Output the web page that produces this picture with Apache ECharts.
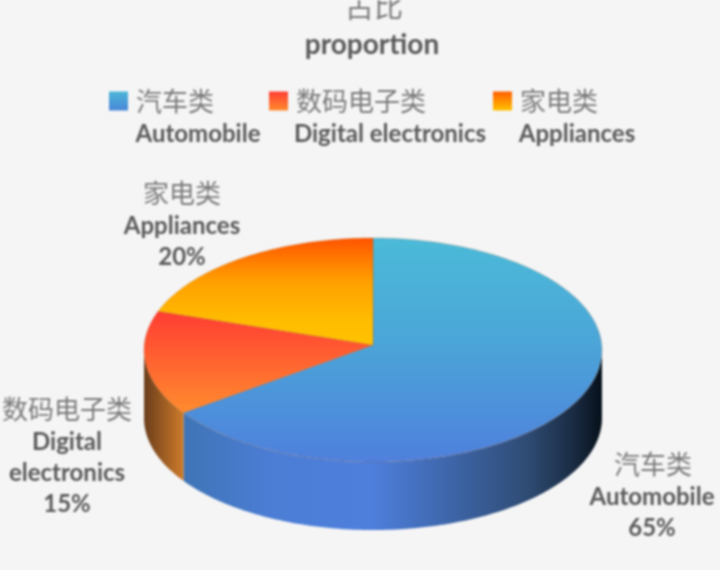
<!DOCTYPE html>
<html><head><meta charset="utf-8">
<style>html,body{margin:0;padding:0;background:#f5f5f6}#c{width:720px;height:570px;filter:blur(0.9px)}</style>
<script src="https://cdn.jsdelivr.net/npm/echarts@6/dist/echarts.min.js"></script>
</head><body><div id="c"></div>
<script>
const titleZh = '占比';
const titleEn = 'proportion';
const categoriesZh = ['汽车类', '数码电子类', '家电类'];
const categoriesEn = ['Automobile', 'Digital electronics', 'Appliances'];
const shares = [65, 15, 20];

const cjk = '"Noto Sans CJK SC"';
const lat = 'Lato, "Open Sans", sans-serif';
const cx = 373, cy = 350, apexY = 345, rx = 229, ry = 112, depth = 68;
const total = shares.reduce((a, b) => a + b, 0);

function lin(x, y, x2, y2, stops) {
  return {type: 'linear', x, y, x2, y2, global: true,
    colorStops: stops.map(s => ({offset: s[0], color: s[1]}))};
}
const topFill = [
  lin(0, 239, 0, 462, [[0, '#4bbad8'], [0.45, '#4ba6d8'], [1, '#4f80dd']]),
  lin(0, 312, 0, 413, [[0, '#ff3d33'], [1, '#ff8c2e']]),
  lin(0, 239, 0, 345, [[0, '#ff5600'], [0.4, '#ffa000'], [0.8, '#ffbe00'], [1, '#ffc200']])
];
const wallFill = [
  lin(183, 0, 602, 0, [[0, '#3f74b6'], [0.22, '#4c7ed6'], [0.45, '#4e7fdc'], [0.62, '#3f68ae'], [0.82, '#2f4c74'], [0.93, '#1a2c44'], [1, '#06101a']]),
  lin(145, 0, 183, 0, [[0, '#6d3f1c'], [1, '#cc7a2a']]),
  '#000'
];
const legendFill = [
  lin(0, 0, 0, 1, [[0, '#4bb6d8'], [1, '#4a86d8']]),
  lin(0, 0, 0, 1, [[0, '#ff3d33'], [1, '#ff8c2e']]),
  lin(0, 0, 0, 1, [[0, '#ff5e00'], [1, '#ffc200']])
];
legendFill.forEach(g => { g.global = false; });

function view(a) { return a - 0.04 * Math.sin(a); }
function pt(a, dy) {
  return [cx + rx * Math.sin(a), cy - ry * Math.cos(a) + (dy || 0)];
}
function arc(a0, a1, dy) {
  const out = [], n = Math.max(4, Math.ceil(Math.abs(a1 - a0) / 0.02));
  for (let i = 0; i <= n; i++) out.push(pt(a0 + (a1 - a0) * i / n, dy));
  return out;
}
function renderSlice(index) {
  return function (params, api) {
    const before = shares.slice(0, index).reduce((a, b) => a + b, 0);
    const a0 = view(before / total * 2 * Math.PI);
    const a1 = view((before + api.value(0)) / total * 2 * Math.PI);
    const kids = [];
    const w0 = Math.max(a0, Math.PI / 2), w1 = Math.min(a1, Math.PI * 1.5);
    if (w1 > w0) {
      kids.push({type: 'polygon', shape: {points: arc(w0, w1, 0).concat(arc(w1, w0, depth))},
        style: {fill: wallFill[index], stroke: 'none'}});
    }
    kids.push({type: 'polygon', shape: {points: [[cx, apexY]].concat(arc(a0, a1, 0))},
      style: {fill: topFill[index], stroke: 'rgba(150,80,20,0.35)', lineWidth: 0.6}});
    return {type: 'group', children: kids};
  };
}

function legendAt(i, left) {
  return {
    left, top: 88, itemWidth: 19, itemHeight: 19, selectedMode: false, icon: 'rect', padding: 0,
    data: [{name: categoriesZh[i], itemStyle: {color: legendFill[i]}}],
    textStyle: {fontFamily: cjk, fontSize: 26, color: '#7a7a7a', padding: [0, 0, 2, 3]}
  };
}
function txt(x, y, text, font, size) {
  const zh = font === 'zh';
  return {type: 'text', x, y, silent: true, style: {
    text, textAlign: 'center', textVerticalAlign: 'middle',
    fontFamily: zh ? cjk : lat, fontSize: size || (zh ? 26 : 24), fontWeight: zh ? 'normal' : 'bold',
    fill: zh ? '#7a7a7a' : '#595959'}};
}
const pct = shares.map(v => v + '%');

const chart = echarts.init(document.getElementById('c'), null, {renderer: 'canvas'});
chart.setOption({
  animation: false,
  backgroundColor: '#f5f5f6',
  legend: [legendAt(0, 109), legendAt(1, 269), legendAt(2, 493)],
  series: shares.map((v, i) => ({
    type: 'custom', name: categoriesZh[i], coordinateSystem: 'none',
    renderItem: renderSlice(i), data: [[v]], silent: true
  })),
  graphic: [
    txt(374, 7, titleZh, 'zh', 29),
    txt(372, 45, titleEn, 'en', 28),
    txt(198, 134, categoriesEn[0], 'en'),
    txt(390, 134, categoriesEn[1], 'en'),
    txt(577, 134, categoriesEn[2], 'en'),
    txt(182, 193, categoriesZh[2], 'zh'),
    txt(182, 226, categoriesEn[2], 'en'),
    txt(182, 257, pct[2], 'en'),
    txt(67, 409, categoriesZh[1], 'zh'),
    txt(67, 442, 'Digital', 'en'),
    txt(67, 473, 'electronics', 'en'),
    txt(67, 504, pct[1], 'en'),
    txt(653, 464, categoriesZh[0], 'zh'),
    txt(652, 497, categoriesEn[0], 'en'),
    txt(652, 528, pct[0], 'en')
  ]
});
</script></body></html>
